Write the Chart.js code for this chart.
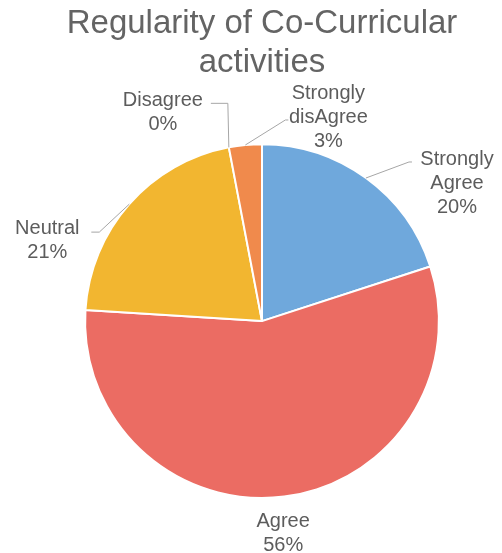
<!DOCTYPE html>
<html>
<head>
<meta charset="utf-8">
<script src="https://cdn.jsdelivr.net/npm/chart.js@4/dist/chart.umd.min.js"></script>
<style>
html,body{margin:0;padding:0;background:#fff;}
#wrap{width:502px;height:553px;}
</style>
</head>
<body>
<div id="wrap"><canvas id="c" width="502" height="553"></canvas></div>
<script>
const titleLines = ["Regularity of Co-Curricular", "activities"];
const categories = ["Strongly Agree", "Agree", "Neutral", "Disagree", "Strongly disAgree"];
const labelLines = [["Strongly", "Agree"], ["Agree"], ["Neutral"], ["Disagree"], ["Strongly", "disAgree"]];
const percents = [20, 56, 21, 0, 3];
const sliceColors = ["#6fa8dc", "#eb6c63", "#f2b630", "#a5a5a5", "#f08a4c"];

// label placement styles (offsets relative to slice edge at mid-angle)
const labelStyle = [
  {dx: 91, dy: 5, leader: [[43, -16], [46, -16]]},
  {dx: -1, dy: 37, leader: null},
  {dx: -82, dy: 36, leader: [[-30, 28], [-38, 28]]},
  {dx: -66, dy: -35, leader: [[-1, -44], [-18, -44]]},
  {dx: 83, dy: -28, leader: [[40, -25], [43, -25]]}
];

const outLabels = {
  id: 'outLabels',
  afterDatasetsDraw(chart) {
    const ctx = chart.ctx;
    const meta = chart.getDatasetMeta(0);
    ctx.save();
    ctx.font = '20px "Liberation Sans", Arial, sans-serif';
    ctx.fillStyle = '#5c5c5c';
    ctx.textAlign = 'center';
    ctx.textBaseline = 'middle';
    meta.data.forEach((arc, i) => {
      const p = arc.getProps(['x', 'y', 'startAngle', 'endAngle', 'outerRadius'], true);
      const mid = (p.startAngle + p.endAngle) / 2;
      const ax = p.x + Math.cos(mid) * p.outerRadius;
      const ay = p.y + Math.sin(mid) * p.outerRadius;
      const st = labelStyle[i];
      if (st.leader) {
        ctx.beginPath();
        ctx.strokeStyle = '#a6a6a6';
        ctx.lineWidth = 1;
        ctx.moveTo(ax, ay);
        st.leader.forEach(pt => ctx.lineTo(ax + pt[0], ay + pt[1]));
        ctx.stroke();
      }
      const lines = labelLines[i].concat([percents[i] + '%']);
      const lh = 24;
      const cx = ax + st.dx, cy = ay + st.dy;
      const top = cy - (lines.length - 1) * lh / 2;
      lines.forEach((t, k) => ctx.fillText(t, cx, top + k * lh));
    });
    ctx.restore();
  }
};

new Chart(document.getElementById('c'), {
  type: 'pie',
  data: {
    labels: categories,
    datasets: [{
      data: percents,
      backgroundColor: sliceColors,
      borderColor: '#ffffff',
      borderWidth: 2
    }]
  },
  options: {
    responsive: false,
    animation: false,
    layout: {padding: {left: 22, right: 0, top: 0, bottom: 54}},
    plugins: {
      legend: {display: false},
      tooltip: {enabled: false},
      title: {
        display: true,
        text: titleLines,
        color: '#646464',
        font: {family: '"Liberation Sans", Arial, sans-serif', size: 33, weight: 'normal', lineHeight: 1.2},
        padding: {top: 4, bottom: 60}
      }
    }
  },
  plugins: [outLabels]
});
</script>
</body>
</html>
